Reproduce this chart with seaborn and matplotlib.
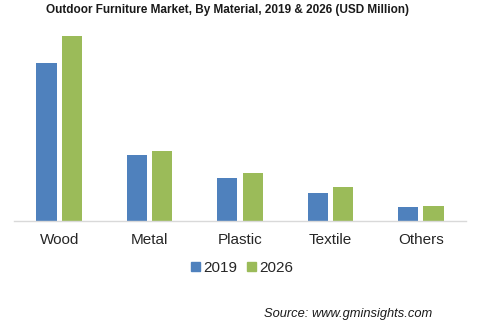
import matplotlib
matplotlib.use("Agg")
import matplotlib.pyplot as plt
import seaborn as sns
import pandas as pd

materials = ["Wood", "Metal", "Plastic", "Textile", "Others"]
years = ["2019", "2026"]
values_2019 = [1580, 660, 430, 280, 140]
values_2026 = [1850, 700, 480, 340, 150]

df = pd.DataFrame({
    "Material": materials * 2,
    "Year": [years[0]] * len(materials) + [years[1]] * len(materials),
    "Value": values_2019 + values_2026,
})

sns.set_theme(style="white")
plt.rcParams["font.family"] = ["Liberation Sans", "DejaVu Sans"]

fig = plt.figure(figsize=(4.8, 3.23), dpi=100)
ax = fig.add_axes([14 / 480, 102 / 323, 452 / 480, 191 / 323])

palette = {"2019": "#4F81BD", "2026": "#9BBB59"}
sns.barplot(data=df, x="Material", y="Value", hue="Year", palette=palette,
            width=0.56, gap=0.2, saturation=1, ax=ax, legend=False,
            edgecolor="none", linewidth=0)

ax.set_xlim(-0.5, 4.5)
ax.set_ylim(0, 1910)
ax.set_xlabel("")
ax.set_ylabel("")
ax.set_yticks([])
for side in ["top", "right", "left"]:
    ax.spines[side].set_visible(False)
ax.spines["bottom"].set_color("#D9D9D9")
ax.spines["bottom"].set_linewidth(1.0)
ax.tick_params(axis="x", length=0, pad=8.5, labelsize=11, labelcolor="#262626")

fig.text(0.475, 1 - 10 / 323, "Outdoor Furniture Market, By Material, 2019 & 2026 (USD Million)",
         ha="center", va="center", fontsize=8.5, fontweight="bold", color="#1a1a1a")

# legend
handles = [plt.Rectangle((0, 0), 1, 1, color=palette[y]) for y in years]
fig.legend(handles, years, loc="center", bbox_to_anchor=(242 / 480, 1 - 268 / 323),
           ncol=2, frameon=False, fontsize=11, handlelength=0.6, handleheight=0.6,
           handletextpad=0.2, columnspacing=0.6, labelcolor="#262626")

fig.text(432 / 480, 1 - 314 / 323, "Source: www.gminsights.com", ha="right", va="center",
         fontsize=9.3, fontstyle="italic", color="#1a1a1a")

fig.savefig("out.png", dpi=100)
